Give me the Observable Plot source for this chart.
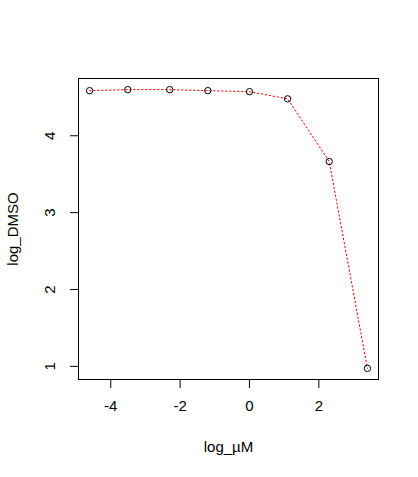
<!DOCTYPE html>
<html>
<head>
<meta charset="utf-8">
<script src="https://cdn.jsdelivr.net/npm/d3@7"></script>
<script src="https://cdn.jsdelivr.net/npm/@observablehq/plot@0.6"></script>
<style>
  html, body { margin: 0; padding: 0; background: #fff; }
  svg { display: block; }
</style>
</head>
<body>
<div id="chart"></div>
<script>
const logUM = [-4.61, -3.51, -2.30, -1.20, 0.00, 1.10, 2.30, 3.40];
const logDMSO = [4.587, 4.60, 4.60, 4.587, 4.574, 4.48, 3.665, 0.974];
const xTicks = [-4, -2, 0, 2];
const yTicks = [1, 2, 3, 4];
const xLabel = "log_µM";
const yLabel = "log_DMSO";

const data = logUM.map((x, i) => ({x, y: logDMSO[i]}));

const chart = Plot.plot({
  width: 418,
  height: 477,
  marginLeft: 78,
  marginRight: 40,
  marginTop: 78,
  marginBottom: 98,
  style: {fontFamily: "'Liberation Sans', Arial, sans-serif", fontSize: "15px", color: "#000", background: "#fff"},
  x: {domain: [-4.93, 3.72]},
  y: {domain: [0.829, 4.745]},
  marks: [
    Plot.frame({stroke: "#000", strokeWidth: 1}),
    Plot.axisX({ticks: xTicks, tickSize: 9, tickPadding: 12, tickFormat: d => String(d), label: null, fontSize: 15}),
    Plot.axisY({ticks: yTicks, tickSize: 8, tickFormat: () => "", label: null}),
    Plot.text(yTicks, {y: d => d, text: d => String(d), frameAnchor: "left", dx: -28, rotate: -90, textAnchor: "middle", lineAnchor: "middle", fontSize: 15, fill: "#000"}),
    Plot.text([xLabel], {frameAnchor: "bottom", dy: 68, text: d => d, textAnchor: "middle", lineAnchor: "middle", fontSize: 15, fill: "#000"}),
    Plot.text([yLabel], {frameAnchor: "left", dx: -65, rotate: -90, text: d => d, textAnchor: "middle", lineAnchor: "middle", fontSize: 15, fill: "#000"}),
    Plot.line(data, {x: "x", y: "y", stroke: "red", strokeWidth: 1, strokeDasharray: "1.5,2.5"}),
    Plot.dot(data, {x: "x", y: "y", r: 3.2, stroke: "#000", fill: "none", strokeWidth: 1})
  ]
});
document.getElementById("chart").appendChild(chart);
</script>
</body>
</html>
